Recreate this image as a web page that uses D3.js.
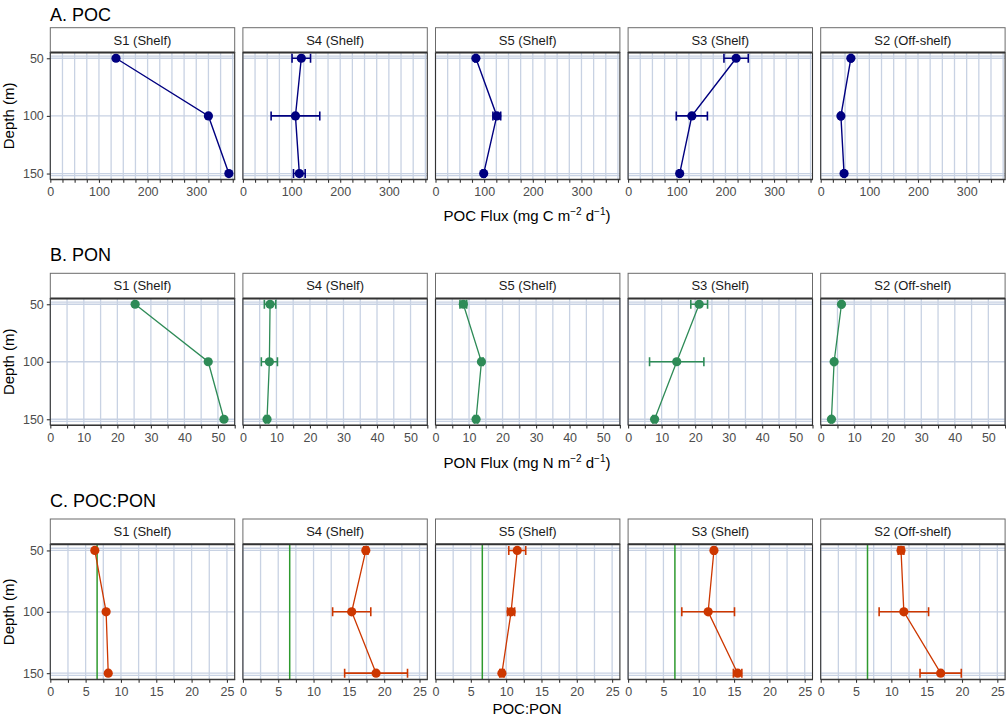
<!DOCTYPE html>
<html><head><meta charset="utf-8">
<script src="https://cdn.jsdelivr.net/npm/d3@7"></script>
<style>
body{margin:0;background:#fff}
text{font-family:"Liberation Sans",Arial,sans-serif}
</style>
</head><body>
<svg id="c" width="1006" height="718"></svg>
<script>
// ---------- data ----------
const stations = ["S1 (Shelf)", "S4 (Shelf)", "S5 (Shelf)", "S3 (Shelf)", "S2 (Off-shelf)"];
const depths = [50, 100, 150];
const depthTicks = [50, 100, 150];

// POC flux (mg C m-2 d-1), per station at 50/100/150 m, and error (sd)
const pocFlux = [[135, 325, 367], [120, 108, 116], [83, 126, 99], [222, 131, 106], [62, 41.5, 48]];
const pocErr  = [[0, 0, 0], [19, 50, 12], [2, 8, 3], [25, 32, 2], [2, 2, 2]];

// PON flux (mg N m-2 d-1)
const ponFlux = [[25.3, 47.1, 51.8], [8.1, 7.9, 7.2], [8.3, 13.7, 12.1], [21.2, 14.5, 7.9], [6.2, 4.0, 3.2]];
const ponErr  = [[0, 0, 0], [1.7, 2.4, 0.5], [1.0, 0.5, 0.5], [2.5, 8.1, 0.5], [0.3, 0.3, 0.3]];

// POC:PON molar ratio
const ratio    = [[6.3, 7.9, 8.2], [17.4, 15.4, 18.85], [11.57, 10.7, 9.4], [12.15, 11.33, 15.5], [11.37, 11.77, 16.98]];
const ratioErr = [[0, 0, 0], [0.3, 2.7, 4.45], [1.2, 0.5, 0.3], [0.2, 3.73, 0.6], [0.4, 3.5, 2.92]];
const redfield = 6.625;

const pocTicks = [0, 100, 200, 300];
const ponTicks = [0, 10, 20, 30, 40, 50];
const ratioTicks = [0, 5, 10, 15, 20, 25];

// ---------- layout ----------
const svg = d3.select("#c");
const panelLeft0 = 50.3, panelW = 184.4, panelStep = 192.6;
const rows = [
  {title: "A. POC", titleY: 21, stripTop: 27.7, top: 52.5, bottom: 179.3, values: pocFlux, err: pocErr,
   xmax: 379, ticks: pocTicks, minorStep: 25, color: "#000080", lw: 1.4,
   axisTitle: ["POC Flux (mg C m", "−2", " d", "−1", ")"], axisY: 221},
  {title: "B. PON", titleY: 261, stripTop: 273.3, top: 298.5, bottom: 425, values: ponFlux, err: ponErr,
   xmax: 55, ticks: ponTicks, minorStep: 5, color: "#2E8B57", lw: 1.3,
   axisTitle: ["PON Flux (mg N m", "−2", " d", "−1", ")"], axisY: 468},
  {title: "C. POC:PON", titleY: 507, stripTop: 519, top: 544.3, bottom: 679.3, values: ratio, err: ratioErr,
   xmax: 26.1, ticks: ratioTicks, minorStep: 2.5, color: "#CD3700", lw: 1.3,
   axisTitle: ["POC:PON"], axisY: 714, redfield: true}
];

const gridCol = "#C8D2E3";
const borderCol = "#333333";

rows.forEach(r => {
  const y = d3.scaleLinear().domain([45, 155]).range([r.top, r.bottom]);
  svg.append("text").attr("x", 50).attr("y", r.titleY).attr("font-size", 18).attr("fill", "#000").text(r.title);
  svg.append("text").attr("transform", `translate(14,${(r.top + r.bottom) / 2}) rotate(-90)`)
    .attr("text-anchor", "middle").attr("font-size", 15).attr("fill", "#000").text("Depth (m)");
  const at = svg.append("text").attr("x", 527).attr("y", r.axisY).attr("text-anchor", "middle")
    .attr("font-size", 15).attr("fill", "#000");
  r.axisTitle.forEach((s, i) => {
    const t = at.append("tspan").text(s);
    if (i % 2 === 1) t.attr("font-size", 10).attr("dy", -6);
    else if (i > 0) t.attr("dy", 6);
  });

  stations.forEach((st, si) => {
    const x0 = panelLeft0 + si * panelStep;
    const x = d3.scaleLinear().domain([0, r.xmax]).range([x0, x0 + panelW]);
    const g = svg.append("g");
    const vgrid = d3.range(0, r.xmax + 1e-9, r.minorStep);
    g.selectAll(".vg").data(vgrid).join("line")
      .attr("x1", d => x(d)).attr("x2", d => x(d)).attr("y1", r.top).attr("y2", r.bottom)
      .attr("stroke", gridCol).attr("stroke-width", 1.3);
    const hgrid = depthTicks.concat([48.2, 151.8]);
    g.selectAll(".hg").data(hgrid).join("line")
      .attr("x1", x0).attr("x2", x0 + panelW).attr("y1", d => y(d)).attr("y2", d => y(d))
      .attr("stroke", gridCol).attr("stroke-width", 1.3);
    if (r.redfield) {
      g.append("line").attr("x1", x(redfield)).attr("x2", x(redfield)).attr("y1", r.top).attr("y2", r.bottom)
        .attr("stroke", "#2E9A2E").attr("stroke-width", 1.5);
    }
    g.append("rect").attr("x", x0).attr("y", r.top).attr("width", panelW).attr("height", r.bottom - r.top)
      .attr("fill", "none").attr("stroke", borderCol).attr("stroke-width", 1.1);
    g.append("rect").attr("x", x0).attr("y", r.stripTop).attr("width", panelW).attr("height", r.top - r.stripTop)
      .attr("fill", "#fff").attr("stroke", "#6b6b6b").attr("stroke-width", 1);
    g.append("line").attr("x1", x0).attr("x2", x0 + panelW).attr("y1", r.top).attr("y2", r.top)
      .attr("stroke", borderCol).attr("stroke-width", 2);
    g.append("text").attr("x", x0 + panelW / 2).attr("y", (r.stripTop + r.top) / 2 + 4.5)
      .attr("text-anchor", "middle").attr("font-size", 13).attr("fill", "#1A1A1A").text(st);
    const ax = g.append("g").attr("transform", `translate(0,${r.bottom})`)
      .call(d3.axisBottom(x).tickValues(vgrid).tickSize(3.5).tickSizeOuter(0)
        .tickFormat(d => r.ticks.includes(+d.toFixed(3)) ? d3.format("d")(d) : ""));
    ax.select(".domain").attr("stroke", borderCol).attr("stroke-width", 1.1);
    ax.selectAll(".tick line").attr("stroke", borderCol).attr("stroke-width", 1.1);
    ax.selectAll(".tick text").attr("font-size", 12.5).attr("fill", "#4D4D4D").attr("dy", "0.8em")
      .attr("font-family", "'Liberation Sans',Arial,sans-serif");
    if (si === 0) {
      const ay = g.append("g").attr("transform", `translate(${x0},0)`)
        .call(d3.axisLeft(y).tickValues(depthTicks).tickSize(3.5).tickSizeOuter(0));
      ay.select(".domain").remove();
      ay.selectAll(".tick line").attr("stroke", borderCol).attr("stroke-width", 1.1);
      ay.selectAll(".tick text").attr("font-size", 12.5).attr("fill", "#4D4D4D")
        .attr("font-family", "'Liberation Sans',Arial,sans-serif");
    }
    const pts = depths.map((d, i) => ({depth: d, v: r.values[si][i], e: r.err[si][i]}));
    g.append("path").datum(pts)
      .attr("d", d3.line().x(d => x(d.v)).y(d => y(d.depth)))
      .attr("fill", "none").attr("stroke", r.color).attr("stroke-width", r.lw);
    const eb = pts.filter(d => d.e > 0);
    g.selectAll(".eb").data(eb).join("path")
      .attr("d", d => {
        const xl = x(d.v - d.e), xr = x(d.v + d.e), yy = y(d.depth);
        return `M${xl},${yy}H${xr}M${xl},${yy - 4.5}V${yy + 4.5}M${xr},${yy - 4.5}V${yy + 4.5}`;
      })
      .attr("fill", "none").attr("stroke", r.color).attr("stroke-width", 1.6);
    g.selectAll(".pt").data(pts).join("circle")
      .attr("cx", d => x(d.v)).attr("cy", d => y(d.depth)).attr("r", 4.6).attr("fill", r.color);
  });
});
</script>
</body></html>
